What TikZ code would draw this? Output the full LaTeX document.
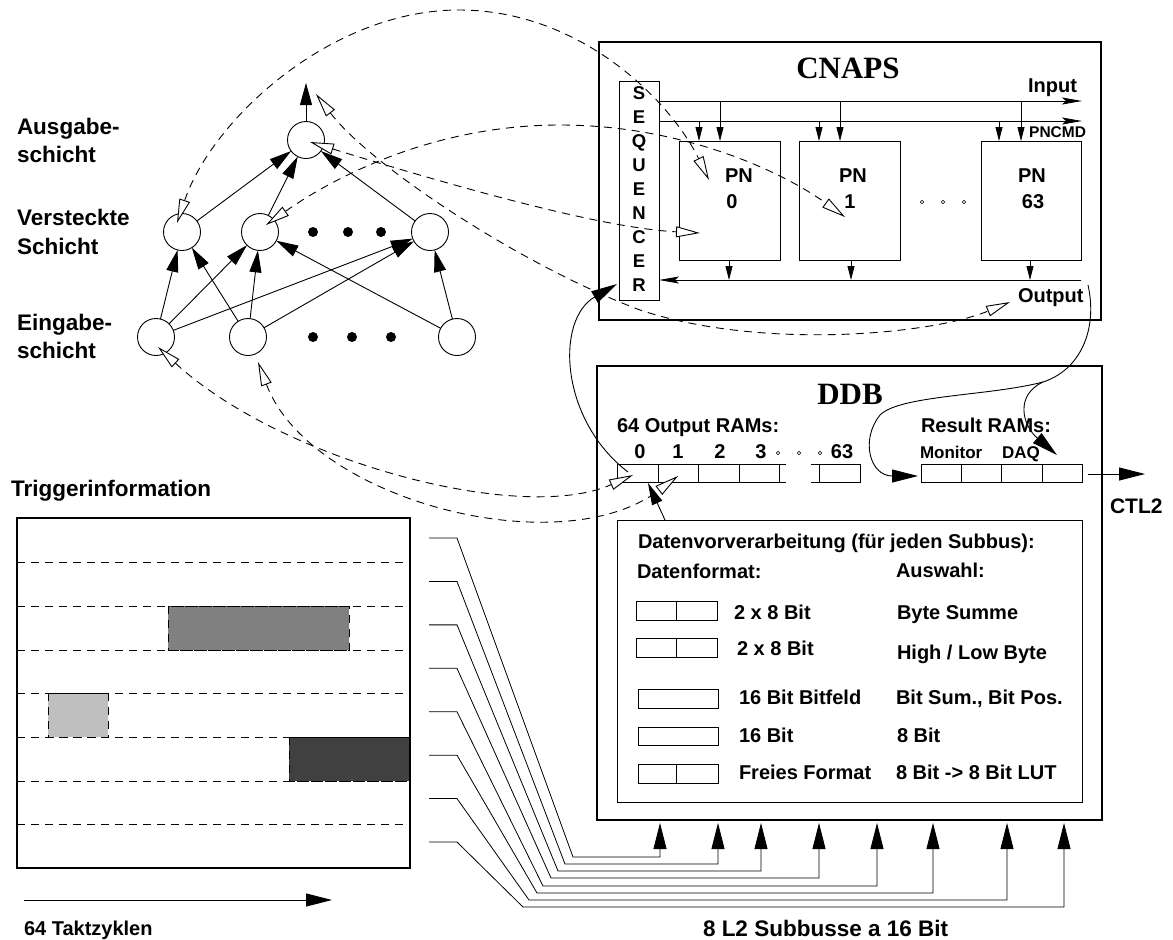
\documentclass[tikz,border=0pt]{standalone}
\usepackage{fontspec}
\setmainfont{Liberation Sans}
\newfontfamily\timesb{Liberation Serif}
\usetikzlibrary{arrows.meta}
\begin{document}
\begin{tikzpicture}[x=1pt,y=-1pt,
 every node/.style={inner sep=0pt,outer sep=0pt},
 txt/.style={font=\bfseries\fontsize{20}{24}\selectfont},
 txtL/.style={font=\bfseries\fontsize{22.5}{27}\selectfont},
 txtS/.style={font=\bfseries\fontsize{17}{20}\selectfont},
 txtXS/.style={font=\bfseries\fontsize{15.5}{18}\selectfont},
 txtSeq/.style={font=\bfseries\fontsize{18.5}{20}\selectfont},
 txtT/.style={font=\bfseries\fontsize{20}{24}\selectfont},
 title/.style={font=\timesb\bfseries\fontsize{31}{36}\selectfont},
 neuron/.style={draw,circle,minimum size=37pt,line width=0.9pt},
 nnarrow/.style={line width=0.9pt,-{Triangle[length=22pt,width=12pt]}},
 mapping/.style={line width=0.9pt,dash pattern=on 8pt off 6pt,
   {Triangle[open,fill=white,length=24pt,width=11pt]}-{Triangle[open,fill=white,length=24pt,width=11pt]}},
 flow/.style={line width=0.9pt,-{Triangle[length=26pt,width=13pt]}},
 smallflow/.style={line width=0.9pt,-{Triangle[length=22pt,width=11pt]}},
 box/.style={draw,line width=1.2pt},
 thinbox/.style={draw,line width=0.9pt},
 drop/.style={line width=0.8pt,-{Triangle[length=14pt,width=7pt]}},
 busarrow/.style={line width=0.9pt,-{Stealth[length=20pt,width=7pt,inset=4pt]}},
 gridline/.style={line width=0.8pt,dash pattern=on 8pt off 6pt},
 smalldot/.style={draw,line width=0.6pt},
]
\fill[white] (0,0) rectangle (1173,940);
\path[use as bounding box] (0,0) rectangle (1173,940);

% ---------------- neural network ----------------
\node[neuron] (o)  at (306,140) {};
\node[neuron] (h1) at (182,232) {};
\node[neuron] (h2) at (260,232) {};
\node[neuron] (h3) at (430,232) {};
\node[neuron] (i1) at (156,337) {};
\node[neuron] (i2) at (248,337) {};
\node[neuron] (i3) at (457,337) {};
\foreach \x in {313,348,381} \fill (\x,232) circle (5pt);
\foreach \x in {313,352,391} \fill (\x,337) circle (5pt);
\coordinate (oout) at (306,83);
\draw[nnarrow] (o) -- (oout);
\foreach \a/\b in {i1/h1,i1/h2,i1/h3,i2/h1,i2/h2,i2/h3,i3/h2,i3/h3,h1/o,h2/o,h3/o}
  \draw[nnarrow] (\a) -- (\b);

\node[txtL,anchor=base west] at (17,134) {Ausgabe-};
\node[txtL,anchor=base west] at (17,162) {schicht};
\node[txtL,anchor=base west] at (17,225) {Versteckte};
\node[txtL,anchor=base west] at (17,254) {Schicht};
\node[txtL,anchor=base west] at (17,330) {Eingabe-};
\node[txtL,anchor=base west] at (17,358) {schicht};

% ---------------- CNAPS ----------------
\draw[box] (599,42) rectangle (1101,320);
\node[title,anchor=base] at (848,78) {CNAPS};
\node[draw,line width=0.9pt,minimum width=40pt,minimum height=219pt] (seq) at (639,190.5) {};
\foreach \ch [count=\i from 0] in {S,E,Q,U,E,N,C,E,R}
  \node[txtSeq,anchor=base] at (639,{99.5+24*\i}) {\ch};
\coordinate (inEnd) at (1082,101);
\coordinate (cmdEnd) at (1082,121);
\draw[busarrow] (seq.east |- inEnd) -- (inEnd);
\draw[busarrow] (seq.east |- cmdEnd) -- (cmdEnd);
\node[txt,anchor=base east] at (1077,92) {Input};
\node[txtXS,anchor=base east] at (1086,137) {PNCMD};

\node[thinbox,minimum width=101pt,minimum height=119pt] (pn0) at (729.5,200.5) {};
\node[thinbox,minimum width=101pt,minimum height=119pt] (pn1) at (849.5,200.5) {};
\node[thinbox,minimum width=100pt,minimum height=119pt] (pn63) at (1031,200.5) {};
\node[txt,anchor=base] at (739,182) {PN};
\node[txt,anchor=base] at (732,208) {0};
\node[txt,anchor=base] at (853,182) {PN};
\node[txt,anchor=base] at (850,208) {1};
\node[txt,anchor=base] at (1032,182) {PN};
\node[txt,anchor=base] at (1033,208) {63};
\foreach \x in {922,943,964} \draw[smalldot] (\x,202) circle (1.8pt);

\foreach \x in {699,819,999} \draw[drop] (\x,121) -- (\x,141);
\foreach \x in {720,840,1021} \draw[drop] (\x,101) -- (\x,141);
\coordinate (obus) at (1081,280);
\draw[busarrow] (obus) -- (seq.east |- obus);
\foreach \x in {729,851,1030} \draw[drop] (\x,260) -- (\x,280);
\node[txt,anchor=base west] (outlbl) at (1018,302) {Output};

% ---------------- DDB ----------------
\draw[box] (597,366) rectangle (1102,820);
\node[title,anchor=base] at (850,404) {DDB};
\node[txt,anchor=base west] at (617,432) {64 Output RAMs:};
\node[txt,anchor=base] at (640,458) {0};
\node[txt,anchor=base] at (678,458) {1};
\node[txt,anchor=base] at (720,458) {2};
\node[txt,anchor=base] at (761,458) {3};
\node[txt,anchor=base] at (842,458) {63};
\foreach \x in {778,799,820} \draw[smalldot] (\x,453) circle (1.8pt);
\begin{scope}[line width=0.9pt]
\draw (617,464) rectangle (779,482);
\foreach \x in {658,698,739} \draw (\x,464) -- (\x,482);
\draw (779,464) -- (786,464) (779,482) -- (786,482);
\draw (811,464) -- (819,464) (811,482) -- (819,482);
\draw (819,464) rectangle (860,482);
\draw (921,464) rectangle (1082,482);
\foreach \x in {961,1001,1042} \draw (\x,464) -- (\x,482);
\end{scope}
\node[txt,anchor=base west] at (921,432) {Result RAMs:};
\node[txtS,anchor=base west] at (920,458) {Monitor};
\node[txtS,anchor=base west] at (1002,458) {DAQ};
\coordinate (ctlA) at (1088,474);
\coordinate (ctlB) at (1145,474);
\draw[flow] (ctlA) -- (ctlB);
\node[txt,font=\bfseries\fontsize{21}{25}\selectfont,anchor=base west] at (1110,513) {CTL2};

\node[thinbox,minimum width=465pt,minimum height=282pt] (pre) at (849.5,661) {};
\coordinate (ramin) at (648,483);
\draw[smallflow] (pre.north -| 665,0) -- (ramin);
\node[txt,anchor=base west] at (638,548) {Datenvorverarbeitung (für jeden Subbus):};
\node[txt,anchor=base west] at (637,578) {Datenformat:};
\node[txt,anchor=base west] at (896,577) {Auswahl:};
\begin{scope}[line width=0.9pt]
\draw (636,601) rectangle (717,620); \draw (676,601) -- (676,620);
\draw (636,638) rectangle (717,657); \draw (676,638) -- (676,657);
\draw (638,689) rectangle (718,708);
\draw (638,727) rectangle (718,745);
\draw (638,764) rectangle (718,783); \draw (676,764) -- (676,783);
\end{scope}
\node[txt,anchor=base west] at (734,619) {2 x 8 Bit};
\node[txt,anchor=base west] at (897,619) {Byte Summe};
\node[txt,anchor=base west] at (737,655) {2 x 8 Bit};
\node[txt,anchor=base west] at (897,659) {High / Low Byte};
\node[txt,anchor=base west] at (739,704) {16 Bit Bitfeld};
\node[txt,anchor=base west] at (896,704) {Bit Sum., Bit Pos.};
\node[txt,anchor=base west] at (739,742) {16 Bit};
\node[txt,anchor=base west] at (897,742) {8 Bit};
\node[txt,anchor=base west] at (739,779) {Freies Format};
\node[txt,anchor=base west] at (896,779) {8 Bit -> 8 Bit LUT};

% ---------------- Trigger information ----------------
\node[txtL,anchor=base west] at (11,496) {Triggerinformation};
\draw[gridline,fill=black!50] (168,606) rectangle (349,650);
\draw[gridline,fill=black!25] (48,693) rectangle (108,737);
\draw[gridline,fill=black!75] (289,737) rectangle (410,781);
\foreach \y in {562,606,650,693,737,781,824} \draw[gridline] (17,\y) -- (405,\y);
\draw[box] (17,518) rectangle (410,868);
\coordinate (t0) at (24,900);
\coordinate (t1) at (332,900);
\draw[flow] (t0) -- (t1);
\node[txtT,anchor=base west] at (24,935) {64 Taktzyklen};

% ---------------- sub buses ----------------
\foreach \k/\X/\L/\Y in {0/660/573/857,1/718/565/864,2/761/558/871,3/819/551/878,
                         4/877/543/886,5/933/537/893,6/1007/529/900,7/1064/523/907}{
  \pgfmathsetmacro\sy{538+43.43*\k}
  \coordinate (s\k) at (429,\sy);
  \coordinate (b\k) at (\X,823);
  \draw[flow,line width=0.8pt] (s\k) -- ++(28,0) -- (\L,\Y) -| (b\k);
}
\node[txtL,anchor=base west] at (703,936) {8 L2 Subbusse a 16 Bit};

% ---------------- solid data flow curves ----------------
\coordinate (ram0) at (628,472);
\coordinate (seqin) at (617,284);
\draw[flow] (ram0) .. controls (560,420) and (555,320) .. (seqin);
\coordinate (cout) at (1088,285);
\coordinate (junc) at (1043,382);
\coordinate (mon) at (918,476);
\coordinate (daq) at (1057,455);
\draw[flow] (cout) .. controls (1098,330) and (1080,370) .. (junc)
   .. controls (990,396) and (900,395) .. (880,415)
   .. controls (860,440) and (870,476) .. (mon);
\draw[flow] (junc) .. controls (1015,395) and (1022,425) .. (daq);

% ---------------- mapping (dashed) curves ----------------
\coordinate (mA1) at (177,223); \coordinate (mA2) at (709,180);
\coordinate (mB1) at (310,142); \coordinate (mB2) at (700,233);
\coordinate (mC1) at (266,225); \coordinate (mC2) at (845,217);
\coordinate (mD1) at (316,94);  \coordinate (mD2) at (1010,302);
\coordinate (mE1) at (158,347); \coordinate (mE2) at (633,475);
\coordinate (mF1) at (258,362); \coordinate (mF2) at (678,476);
\draw[mapping] (mA1) .. controls (212,120) and (330,10) .. (459,10)
   .. controls (580,10) and (670,100) .. (mA2);
\draw[mapping] (mB1) .. controls (450,185) and (600,228) .. (mB2);
\draw[mapping] (mC1) .. controls (330,180) and (430,125) .. (560,125)
   .. controls (680,125) and (780,170) .. (mC2);
\draw[mapping] (mD1) .. controls (370,165) and (520,265) .. (640,310)
   .. controls (760,350) and (930,335) .. (mD2);
\draw[mapping] (mE1) .. controls (280,460) and (520,525) .. (mE2);
\draw[mapping] (mF1) .. controls (310,500) and (560,565) .. (mF2);
\end{tikzpicture}
\end{document}
